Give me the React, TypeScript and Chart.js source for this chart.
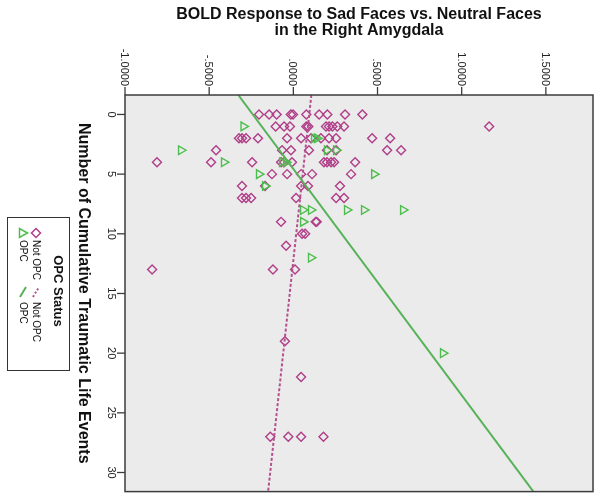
import React, { useEffect, useRef } from 'react';
import { Chart, registerables } from 'chart.js';

Chart.register(...registerables);

// ---------- data ----------
const titleLines = ['BOLD Response to Sad Faces vs. Neutral Faces', 'in the Right Amygdala'];
const yAxisTitle = 'Number of Cumulative Traumatic Life Events';
const legendTitle = 'OPC Status';
const groupNames = ['Not OPC', 'OPC'];

const xTickValues = [-1.0, -0.5, 0.0, 0.5, 1.0, 1.5];
const xTickLabels = ['-1.0000', '-.5000', '.0000', '.5000', '1.0000', '1.5000'];
const yTickValues = [0, 5, 10, 15, 20, 25, 30];
const xRange = [-1.0, 1.78];
const yRange = [-1.63, 31.6];

// Not OPC (diamonds): BOLD response and number of events
const notOpcBold = [
  -0.204, -0.144, -0.099, -0.015, -0.002, 0.077, 0.153, 0.202, 0.307, 0.41,
  -0.105, -0.055, -0.02, 0.077, 0.089, 0.194, 0.212, 0.232, 0.261, 0.301, 1.163,
  -0.323, -0.305, -0.281, -0.21, -0.037, 0.046, 0.105, 0.164, 0.212, 0.254, 0.468, 0.575,
  -0.459, -0.067, -0.014, 0.093, 0.2, 0.254, 0.557, 0.64,
  -0.81, -0.489, -0.245, -0.073, -0.055, -0.008, 0.182, 0.2, 0.224, 0.242, 0.367,
  -0.127, -0.037, 0.046, 0.111, 0.343,
  -0.305, -0.168, 0.046, 0.087, 0.277,
  -0.305, -0.281, -0.251, 0.016, 0.254, 0.301,
  -0.073, 0.133, 0.139,
  0.052, 0.07,
  -0.043,
  -0.839, -0.121, 0.01,
  -0.05,
  0.046,
  -0.137, -0.03, 0.046, 0.179,
];
const notOpcEvents = [
  0, 0, 0, 0, 0, 0, 0, 0, 0, 0,
  1, 1, 1, 1, 1, 1, 1, 1, 1, 1, 1,
  2, 2, 2, 2, 2, 2, 2, 2, 2, 2, 2, 2,
  3, 3, 3, 3, 3, 3, 3, 3,
  4, 4, 4, 4, 4, 4, 4, 4, 4, 4, 4,
  5, 5, 5, 5, 5,
  6, 6, 6, 6, 6,
  7, 7, 7, 7, 7, 7,
  9, 9, 9,
  10, 10,
  11,
  13, 13, 13,
  19,
  22,
  27, 27, 27, 27,
];

// OPC (triangles)
const opcBold = [-0.296, 0.123, 0.141, -0.667, 0.2, 0.254, -0.412, -0.067, -0.043, -0.204, 0.48, -0.168, 0.058, 0.105, 0.319, 0.42, 0.652, 0.058, 0.105, 0.889];
const opcEvents = [1, 2, 2, 3, 3, 3, 4, 4, 4, 5, 5, 6, 8, 8, 8, 8, 8, 9, 12, 20];

// fitted lines (BOLD = intercept + slope * events)
const notOpcFit = [0.0944, -0.00773];
const opcFit = [-0.241, 0.05275];

const pink = '#B03E88';
const pinkLine = '#B5508F';
const green = '#4DBE4D';
const greenLine = '#57B257';
const plotBg = '#EBEBEB';
const frameColor = '#3C3C3C';
const FONT = 'Arial, "Liberation Sans", sans-serif';

function fitPoints(fit: number[]) {
  return yRange.map((y) => ({ x: fit[0] + fit[1] * y, y }));
}

const decorPlugin = {
  id: 'decor',
  beforeDatasetsDraw(chart: any) {
    const { ctx, chartArea: a } = chart;
    ctx.save();
    ctx.fillStyle = plotBg;
    ctx.fillRect(a.left, a.top, a.right - a.left, a.bottom - a.top);
    ctx.restore();
  },
  afterDraw(chart: any) {
    const { ctx, chartArea: a } = chart;
    const xs = chart.scales.x;
    const ys = chart.scales.y;
    ctx.save();
    // frame
    ctx.strokeStyle = frameColor;
    ctx.lineWidth = 1.5;
    ctx.strokeRect(a.left, a.top, a.right - a.left, a.bottom - a.top);

    // top axis ticks
    ctx.lineWidth = 1.3;
    ctx.fillStyle = '#222';
    ctx.font = `11px ${FONT}`;
    xTickValues.forEach((v, i) => {
      const px = xs.getPixelForValue(v);
      ctx.beginPath();
      ctx.moveTo(px, a.top - 8);
      ctx.lineTo(px, a.top);
      ctx.stroke();
      ctx.save();
      ctx.translate(px - 1, a.top - 9);
      ctx.rotate(Math.PI / 2);
      ctx.textAlign = 'right';
      ctx.textBaseline = 'middle';
      ctx.fillText(xTickLabels[i], 0, 0);
      ctx.restore();
    });

    // left axis ticks
    yTickValues.forEach((v) => {
      const py = ys.getPixelForValue(v);
      ctx.beginPath();
      ctx.moveTo(a.left - 8, py);
      ctx.lineTo(a.left, py);
      ctx.stroke();
      ctx.save();
      ctx.translate(a.left - 14, py);
      ctx.rotate(Math.PI / 2);
      ctx.textAlign = 'center';
      ctx.textBaseline = 'middle';
      ctx.fillText(String(v), 0, 0);
      ctx.restore();
    });

    // title
    ctx.fillStyle = '#111';
    ctx.font = `bold 16px ${FONT}`;
    ctx.textAlign = 'center';
    ctx.textBaseline = 'alphabetic';
    const cx = (a.left + a.right) / 2;
    ctx.fillText(titleLines[0], cx, 19);
    ctx.fillText(titleLines[1], cx, 35);

    // y axis title
    ctx.save();
    ctx.translate(83, (a.top + a.bottom) / 2);
    ctx.rotate(Math.PI / 2);
    ctx.textAlign = 'center';
    ctx.textBaseline = 'middle';
    ctx.fillText(yAxisTitle, 0, 0);
    ctx.restore();

    // legend box
    ctx.strokeStyle = '#333';
    ctx.lineWidth = 1;
    ctx.strokeRect(7.5, 217.5, 62, 153);
    ctx.save();
    ctx.translate(58, 291);
    ctx.rotate(Math.PI / 2);
    ctx.font = `bold 13px ${FONT}`;
    ctx.textAlign = 'center';
    ctx.textBaseline = 'middle';
    ctx.fillText(legendTitle, 0, 0);
    ctx.restore();

    const rotText = (t: string, x: number, y: number) => {
      ctx.save();
      ctx.translate(x, y);
      ctx.rotate(Math.PI / 2);
      ctx.font = `10px ${FONT}`;
      ctx.textAlign = 'left';
      ctx.textBaseline = 'middle';
      ctx.fillStyle = '#111';
      ctx.fillText(t, 0, 0);
      ctx.restore();
    };
    // diamond
    ctx.strokeStyle = pink;
    ctx.lineWidth = 1.5;
    ctx.beginPath();
    ctx.moveTo(36, 228.5);
    ctx.lineTo(40.5, 233);
    ctx.lineTo(36, 237.5);
    ctx.lineTo(31.5, 233);
    ctx.closePath();
    ctx.stroke();
    rotText(groupNames[0], 36, 240);
    // triangle
    ctx.strokeStyle = green;
    ctx.beginPath();
    ctx.moveTo(27.5, 233);
    ctx.lineTo(19.5, 228.5);
    ctx.lineTo(19.5, 237.5);
    ctx.closePath();
    ctx.stroke();
    rotText(groupNames[1], 23, 240);
    // dotted line
    ctx.strokeStyle = pinkLine;
    ctx.lineWidth = 2;
    ctx.setLineDash([2, 2]);
    ctx.beginPath();
    ctx.moveTo(33, 297);
    ctx.lineTo(39, 287);
    ctx.stroke();
    ctx.setLineDash([]);
    rotText(groupNames[0], 36, 302);
    ctx.strokeStyle = greenLine;
    ctx.beginPath();
    ctx.moveTo(20, 297);
    ctx.lineTo(26, 287);
    ctx.stroke();
    rotText(groupNames[1], 23, 302);
    ctx.restore();
  },
};

export default function App() {
  const canvasRef = useRef<HTMLCanvasElement | null>(null);

  useEffect(() => {
    document.body.style.margin = '0';
    const canvas = canvasRef.current;
    if (!canvas) return;
    const chart = new Chart(canvas, {
      type: 'scatter',
      data: {
        datasets: [
          {
            label: groupNames[1] + ' fit',
            data: fitPoints(opcFit),
            showLine: true,
            borderColor: greenLine,
            borderWidth: 2,
            pointRadius: 0,
          },
          {
            label: groupNames[0] + ' fit',
            data: fitPoints(notOpcFit),
            showLine: true,
            borderColor: pinkLine,
            borderWidth: 2,
            borderDash: [3, 2],
            pointRadius: 0,
          },
          {
            label: groupNames[1],
            data: opcBold.map((x, i) => ({ x, y: opcEvents[i] })),
            pointStyle: 'triangle',
            rotation: 90,
            radius: 5,
            borderColor: green,
            borderWidth: 1.4,
            backgroundColor: 'rgba(0,0,0,0)',
          },
          {
            label: groupNames[0],
            data: notOpcBold.map((x, i) => ({ x, y: notOpcEvents[i] })),
            pointStyle: 'rectRot',
            radius: 4.5,
            borderColor: pink,
            borderWidth: 1.4,
            backgroundColor: 'rgba(0,0,0,0)',
          },
        ],
      },
      options: {
        responsive: false,
        animation: false,
        layout: { padding: { left: 125, top: 95, right: 7, bottom: 6 } },
        plugins: {
          legend: { display: false },
          title: { display: false },
          tooltip: { enabled: false },
        },
        scales: {
          x: { type: 'linear', min: xRange[0], max: xRange[1], display: false },
          y: { type: 'linear', min: yRange[0], max: yRange[1], reverse: true, display: false },
        },
      },
      plugins: [decorPlugin],
    });
    return () => chart.destroy();
  }, []);

  return (
    <div style={{ width: 600, height: 498 }}>
      <canvas ref={canvasRef} width={600} height={498} />
    </div>
  );
}
